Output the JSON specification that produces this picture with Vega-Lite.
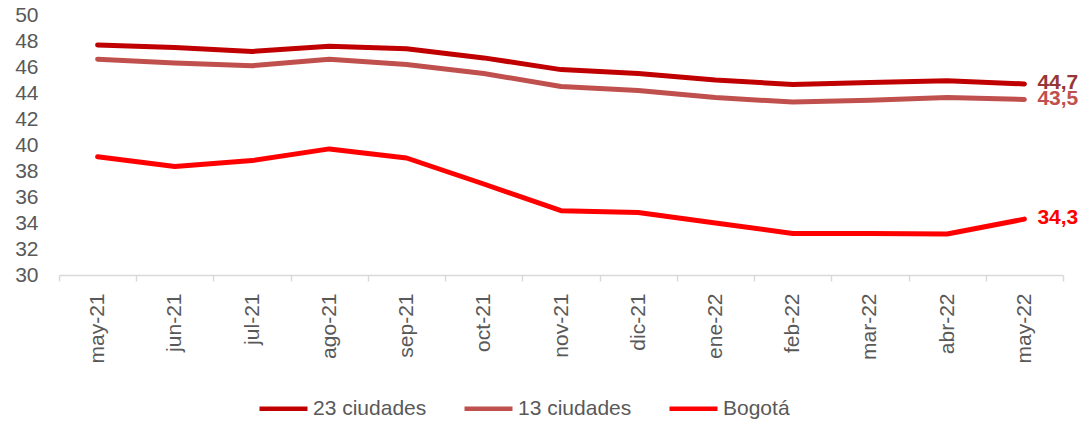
{
  "$schema": "https://vega.github.io/schema/vega-lite/v6.json",
  "width": 1004,
  "height": 260,
  "autosize": {"type": "none"},
  "padding": {"left": 59, "top": 15, "right": 23, "bottom": 146},
  "config": {
    "font": "Liberation Sans",
    "view": {"stroke": null},
    "locale": {"number": {"decimal": ",", "thousands": ".", "grouping": [3], "currency": ["$", ""]}}
  },
  "data": {
    "values": [
      {"mes": "may-21", "serie": "23 ciudades", "valor": 47.7},
      {"mes": "jun-21", "serie": "23 ciudades", "valor": 47.5},
      {"mes": "jul-21", "serie": "23 ciudades", "valor": 47.2},
      {"mes": "ago-21", "serie": "23 ciudades", "valor": 47.6},
      {"mes": "sep-21", "serie": "23 ciudades", "valor": 47.4},
      {"mes": "oct-21", "serie": "23 ciudades", "valor": 46.7},
      {"mes": "nov-21", "serie": "23 ciudades", "valor": 45.8},
      {"mes": "dic-21", "serie": "23 ciudades", "valor": 45.5},
      {"mes": "ene-22", "serie": "23 ciudades", "valor": 45.0},
      {"mes": "feb-22", "serie": "23 ciudades", "valor": 44.65},
      {"mes": "mar-22", "serie": "23 ciudades", "valor": 44.8},
      {"mes": "abr-22", "serie": "23 ciudades", "valor": 44.95},
      {"mes": "may-22", "serie": "23 ciudades", "valor": 44.7},
      {"mes": "may-21", "serie": "13 ciudades", "valor": 46.6},
      {"mes": "jun-21", "serie": "13 ciudades", "valor": 46.3},
      {"mes": "jul-21", "serie": "13 ciudades", "valor": 46.1},
      {"mes": "ago-21", "serie": "13 ciudades", "valor": 46.6},
      {"mes": "sep-21", "serie": "13 ciudades", "valor": 46.2},
      {"mes": "oct-21", "serie": "13 ciudades", "valor": 45.5},
      {"mes": "nov-21", "serie": "13 ciudades", "valor": 44.5},
      {"mes": "dic-21", "serie": "13 ciudades", "valor": 44.2},
      {"mes": "ene-22", "serie": "13 ciudades", "valor": 43.65},
      {"mes": "feb-22", "serie": "13 ciudades", "valor": 43.3},
      {"mes": "mar-22", "serie": "13 ciudades", "valor": 43.45},
      {"mes": "abr-22", "serie": "13 ciudades", "valor": 43.65},
      {"mes": "may-22", "serie": "13 ciudades", "valor": 43.5},
      {"mes": "may-21", "serie": "Bogotá", "valor": 39.1},
      {"mes": "jun-21", "serie": "Bogotá", "valor": 38.35},
      {"mes": "jul-21", "serie": "Bogotá", "valor": 38.8},
      {"mes": "ago-21", "serie": "Bogotá", "valor": 39.7},
      {"mes": "sep-21", "serie": "Bogotá", "valor": 39.0},
      {"mes": "oct-21", "serie": "Bogotá", "valor": 37.0},
      {"mes": "nov-21", "serie": "Bogotá", "valor": 34.95},
      {"mes": "dic-21", "serie": "Bogotá", "valor": 34.8},
      {"mes": "ene-22", "serie": "Bogotá", "valor": 34.0},
      {"mes": "feb-22", "serie": "Bogotá", "valor": 33.2},
      {"mes": "mar-22", "serie": "Bogotá", "valor": 33.2},
      {"mes": "abr-22", "serie": "Bogotá", "valor": 33.15},
      {"mes": "may-22", "serie": "Bogotá", "valor": 34.3}
    ]
  },
  "encoding": {
    "x": {
      "field": "mes", "type": "ordinal", "bandPosition": 0.5,
      "scale": {"type": "band", "paddingInner": 0, "paddingOuter": 0,
        "domain": ["may-21","jun-21","jul-21","ago-21","sep-21","oct-21","nov-21","dic-21","ene-22","feb-22","mar-22","abr-22","may-22"]},
      "axis": {
        "title": null, "labelAngle": -90, "labelFontSize": 21, "labelColor": "#595959",
        "domainColor": "#D9D9D9", "domainWidth": 1.5, "tickColor": "#D9D9D9", "tickWidth": 1.5,
        "tickSize": 6, "tickBand": "extent", "labelPadding": 12, "grid": false, "labelOverlap": false
      }
    },
    "y": {
      "field": "valor", "type": "quantitative",
      "scale": {"domain": [30, 50], "nice": false, "zero": false},
      "axis": {
        "title": null, "values": [30,32,34,36,38,40,42,44,46,48,50],
        "labelFontSize": 21, "labelColor": "#595959", "domain": false, "ticks": false,
        "grid": false, "labelPadding": 21, "labelOverlap": false
      }
    }
  },
  "layer": [
    {
      "mark": {"type": "line", "strokeWidth": 5, "strokeCap": "round", "strokeJoin": "round"},
      "encoding": {
        "color": {
          "field": "serie", "type": "nominal",
          "scale": {"domain": ["23 ciudades", "13 ciudades", "Bogotá"], "range": ["#C00000", "#C0504D", "#FF0000"]},
          "legend": {
            "title": null, "orient": "none", "direction": "horizontal", "legendX": 198, "legendY": 367,
            "symbolType": "stroke", "symbolSize": 2304, "symbolStrokeWidth": 4.5,
            "labelFontSize": 21, "labelColor": "#595959", "labelOffset": 3, "columnPadding": 28
          }
        }
      }
    },
    {
      "transform": [{"filter": "datum.mes === 'may-22'"}],
      "mark": {"type": "text", "align": "left", "baseline": "middle", "dx": 13, "dy": -1, "fontSize": 21, "fontWeight": "bold"},
      "encoding": {
        "text": {"field": "valor", "type": "quantitative", "format": ".1f"},
        "color": {
          "field": "serie", "type": "nominal",
          "scale": {"domain": ["23 ciudades", "13 ciudades", "Bogotá"], "range": ["#953735", "#C0504D", "#FF0000"]},
          "legend": null
        }
      }
    }
  ],
  "resolve": {"scale": {"color": "independent"}}
}
